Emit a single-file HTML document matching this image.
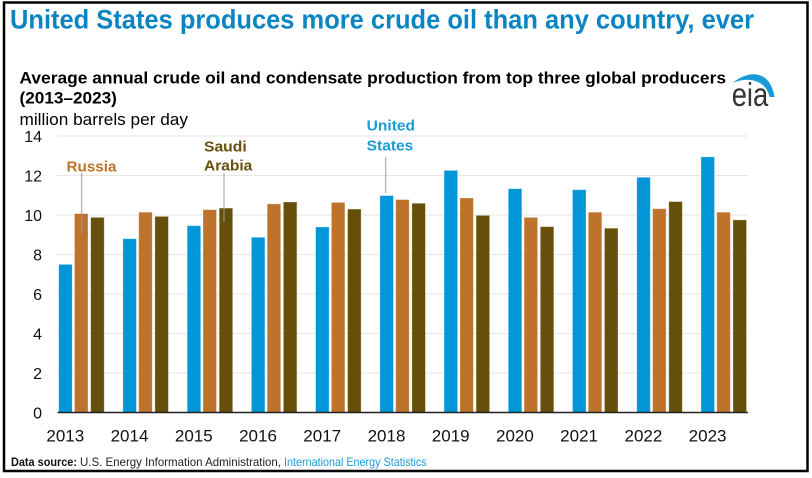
<!DOCTYPE html>
<html><head><meta charset="utf-8"><style>
html,body{margin:0;padding:0;background:#fff;}
svg{display:block;}
text{font-family:"Liberation Sans",Arial,sans-serif;}
</style></head><body>
<svg width="812" height="478" viewBox="0 0 812 478" xmlns="http://www.w3.org/2000/svg">
<rect x="0" y="0" width="812" height="478" fill="#fff"/>
<rect x="4" y="2.5" width="803.5" height="468.5" fill="none" stroke="#000" stroke-width="2.5"/>

<text x="10" y="28.5" font-size="26.5" font-weight="bold" fill="#0a85c2" textLength="744" lengthAdjust="spacingAndGlyphs">United States produces more crude oil than any country, ever</text>

<text x="19.5" y="83.3" font-size="17" font-weight="bold" fill="#000" textLength="706.5" lengthAdjust="spacingAndGlyphs">Average annual crude oil and condensate production from top three global producers</text>
<text x="19.5" y="103.5" font-size="17" font-weight="bold" fill="#000" textLength="97.4" lengthAdjust="spacingAndGlyphs">(2013–2023)</text>
<text x="19.5" y="125" font-size="17" fill="#000" textLength="168.5" lengthAdjust="spacingAndGlyphs">million barrels per day</text>

<!-- eia logo -->
<path d="M732.5,83 C748,70 770,69 774.5,97 L769.5,97 C766,80 748,76 732.5,83 Z" fill="#1a9ad6"/>
<text x="731.7" y="106" font-size="33" fill="#333" textLength="36.5" lengthAdjust="spacingAndGlyphs">eia</text>

<!-- gridlines -->
<g stroke="#e6e6e6" stroke-width="1">
<line x1="57" x2="748" y1="373" y2="373"/>
<line x1="57" x2="748" y1="333.5" y2="333.5"/>
<line x1="57" x2="748" y1="294" y2="294"/>
<line x1="57" x2="748" y1="254.5" y2="254.5"/>
<line x1="57" x2="748" y1="215" y2="215"/>
<line x1="57" x2="748" y1="175.5" y2="175.5"/>
<line x1="57" x2="748" y1="136" y2="136"/>
</g>

<!-- y labels -->
<g font-size="16" fill="#111" text-anchor="end">
<text x="42" y="418.5">0</text>
<text x="42" y="379">2</text>
<text x="42" y="339.5">4</text>
<text x="42" y="300">6</text>
<text x="42" y="260.5">8</text>
<text x="42" y="221">10</text>
<text x="42" y="181.5">12</text>
<text x="42" y="142">14</text>
</g>

<!-- bars -->
<g stroke="rgba(255,255,255,0.35)" stroke-width="0.8">
<g fill="#0096d7">
<rect x="58.7" y="264.4" width="13.5" height="148.1"/>
<rect x="122.9" y="238.7" width="13.5" height="173.8"/>
<rect x="187.2" y="225.7" width="13.5" height="186.8"/>
<rect x="251.4" y="237.3" width="13.5" height="175.2"/>
<rect x="315.6" y="227.0" width="13.5" height="185.5"/>
<rect x="379.9" y="195.6" width="13.5" height="216.9"/>
<rect x="444.1" y="170.4" width="13.5" height="242.1"/>
<rect x="508.3" y="188.7" width="13.5" height="223.8"/>
<rect x="572.5" y="189.7" width="13.5" height="222.8"/>
<rect x="636.8" y="177.3" width="13.5" height="235.2"/>
<rect x="701.0" y="156.9" width="13.5" height="255.6"/>
</g>
<g fill="#bd732c">
<rect x="74.5" y="213.6" width="13.5" height="198.9"/>
<rect x="138.7" y="212.2" width="13.5" height="200.3"/>
<rect x="203.0" y="209.7" width="13.5" height="202.8"/>
<rect x="267.2" y="203.9" width="13.5" height="208.6"/>
<rect x="331.4" y="202.4" width="13.5" height="210.1"/>
<rect x="395.7" y="199.6" width="13.5" height="212.9"/>
<rect x="459.9" y="198.0" width="13.5" height="214.5"/>
<rect x="524.1" y="217.4" width="13.5" height="195.1"/>
<rect x="588.3" y="212.2" width="13.5" height="200.3"/>
<rect x="652.6" y="208.7" width="13.5" height="203.8"/>
<rect x="716.8" y="212.2" width="13.5" height="200.3"/>
</g>
<g fill="#654f0a">
<rect x="90.7" y="217.4" width="13.5" height="195.1"/>
<rect x="154.9" y="216.4" width="13.5" height="196.1"/>
<rect x="219.2" y="208.1" width="13.5" height="204.4"/>
<rect x="283.4" y="202.0" width="13.5" height="210.5"/>
<rect x="347.6" y="209.1" width="13.5" height="203.4"/>
<rect x="411.9" y="203.3" width="13.5" height="209.2"/>
<rect x="476.1" y="215.4" width="13.5" height="197.1"/>
<rect x="540.3" y="226.7" width="13.5" height="185.8"/>
<rect x="604.5" y="228.2" width="13.5" height="184.3"/>
<rect x="668.8" y="201.6" width="13.5" height="210.9"/>
<rect x="733.0" y="219.9" width="13.5" height="192.6"/>
</g>
</g>

<!-- axis -->
<line x1="57.5" x2="748" y1="412.5" y2="412.5" stroke="#222" stroke-width="1.6"/>

<!-- x labels -->
<g font-size="17" fill="#111" text-anchor="middle">
<text x="65.3" y="441.5">2013</text>
<text x="129.5" y="441.5">2014</text>
<text x="193.8" y="441.5">2015</text>
<text x="258.0" y="441.5">2016</text>
<text x="322.2" y="441.5">2017</text>
<text x="386.5" y="441.5">2018</text>
<text x="450.7" y="441.5">2019</text>
<text x="514.9" y="441.5">2020</text>
<text x="579.1" y="441.5">2021</text>
<text x="643.4" y="441.5">2022</text>
<text x="707.6" y="441.5">2023</text>
</g>

<!-- annotations -->
<g stroke="#999" stroke-width="1">
<line x1="81.7" x2="81.7" y1="173" y2="234"/>
<line x1="224" x2="224" y1="173" y2="222"/>
<line x1="385.7" x2="385.7" y1="157" y2="193"/>
</g>
<g font-size="15" font-weight="bold">
<text x="66.5" y="171.5" fill="#bd732c" textLength="50" lengthAdjust="spacingAndGlyphs">Russia</text>
<text x="204" y="151.7" fill="#654f0a" textLength="42.7" lengthAdjust="spacingAndGlyphs">Saudi</text>
<text x="204" y="170.7" fill="#654f0a" textLength="48.3" lengthAdjust="spacingAndGlyphs">Arabia</text>
<text x="366.7" y="130.7" fill="#1a9ad6" textLength="48.3" lengthAdjust="spacingAndGlyphs">United</text>
<text x="366.7" y="150.7" fill="#1a9ad6" textLength="46.6" lengthAdjust="spacingAndGlyphs">States</text>
</g>

<!-- footer -->
<text x="11" y="466" font-size="12" font-weight="bold" fill="#111" textLength="66" lengthAdjust="spacingAndGlyphs">Data source:</text>
<text x="80" y="466" font-size="12" fill="#222" textLength="201" lengthAdjust="spacingAndGlyphs">U.S. Energy Information Administration,</text>
<text x="284" y="466" font-size="12" fill="#1a9ad6" textLength="142.7" lengthAdjust="spacingAndGlyphs">International Energy Statistics</text>
</svg>
</body></html>
